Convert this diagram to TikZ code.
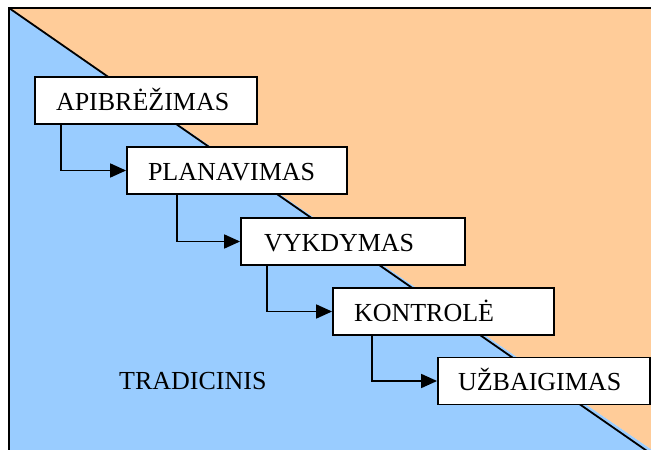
\documentclass[tikz,border=0pt]{standalone}
\usepackage{fontspec}
\setmainfont{Liberation Serif}
\usetikzlibrary{arrows.meta}
\definecolor{skyfill}{HTML}{99CCFF}
\definecolor{peachfill}{HTML}{FFCC99}
\tikzset{
  phase/.style={draw=black, line width=1.8pt, fill=white, rectangle,
    minimum height=47pt, inner xsep=21pt, inner ysep=0pt,
    text height=19pt, text depth=0pt, align=left,
    font=\fontsize{26}{30}\selectfont},
  flow/.style={line width=1.7pt, -{Triangle[length=16pt,width=14pt]}},
}
\begin{document}
\begin{tikzpicture}[x=1pt,y=-1pt]
\useasboundingbox (0,0) rectangle (651,450);
\clip (0,0) rectangle (651,450);
% two halves of the frame, split by the diagonal
\fill[peachfill] (9,8) -- (700,8) -- (700,500) -- (652,450) -- cycle;
\fill[skyfill] (9,8) -- (652,450) -- (700,500) -- (9,500) -- cycle;
\draw[line width=1.8pt] (9,8) -- (660,460);
\draw[line width=2.4pt] (9,470) -- (9,8) -- (700,8);
% phases
\node[phase, minimum width=222pt, text width=180pt] (p1) at (146,100.5) {APIBRĖŽIMAS};
\node[phase, minimum width=220pt, text width=178pt] (p2) at (237,170.5) {PLANAVIMAS};
\node[phase, minimum width=222pt, text width=178pt, inner xsep=23pt] (p3) at (353,241.5) {VYKDYMAS};
\node[phase, minimum width=221pt, text width=179pt] (p4) at (443.5,311.5) {KONTROLĖ};
\node[phase, minimum width=212pt, text width=172pt, inner xsep=20pt] (p5) at (544,381) {UŽBAIGIMAS};
% connectors
\draw[flow] ([xshift=27pt]p1.south west) |- (p2.west);
\draw[flow] ([xshift=51pt]p2.south west) |- (p3.west);
\draw[flow] ([xshift=27pt]p3.south west) |- (p4.west);
\draw[flow] ([xshift=40pt]p4.south west) |- (p5.west);
% label
\node[anchor=base west, inner sep=0pt, font=\fontsize{26}{30}\selectfont] (trad) at (119,389) {TRADICINIS};
\end{tikzpicture}
\end{document}
